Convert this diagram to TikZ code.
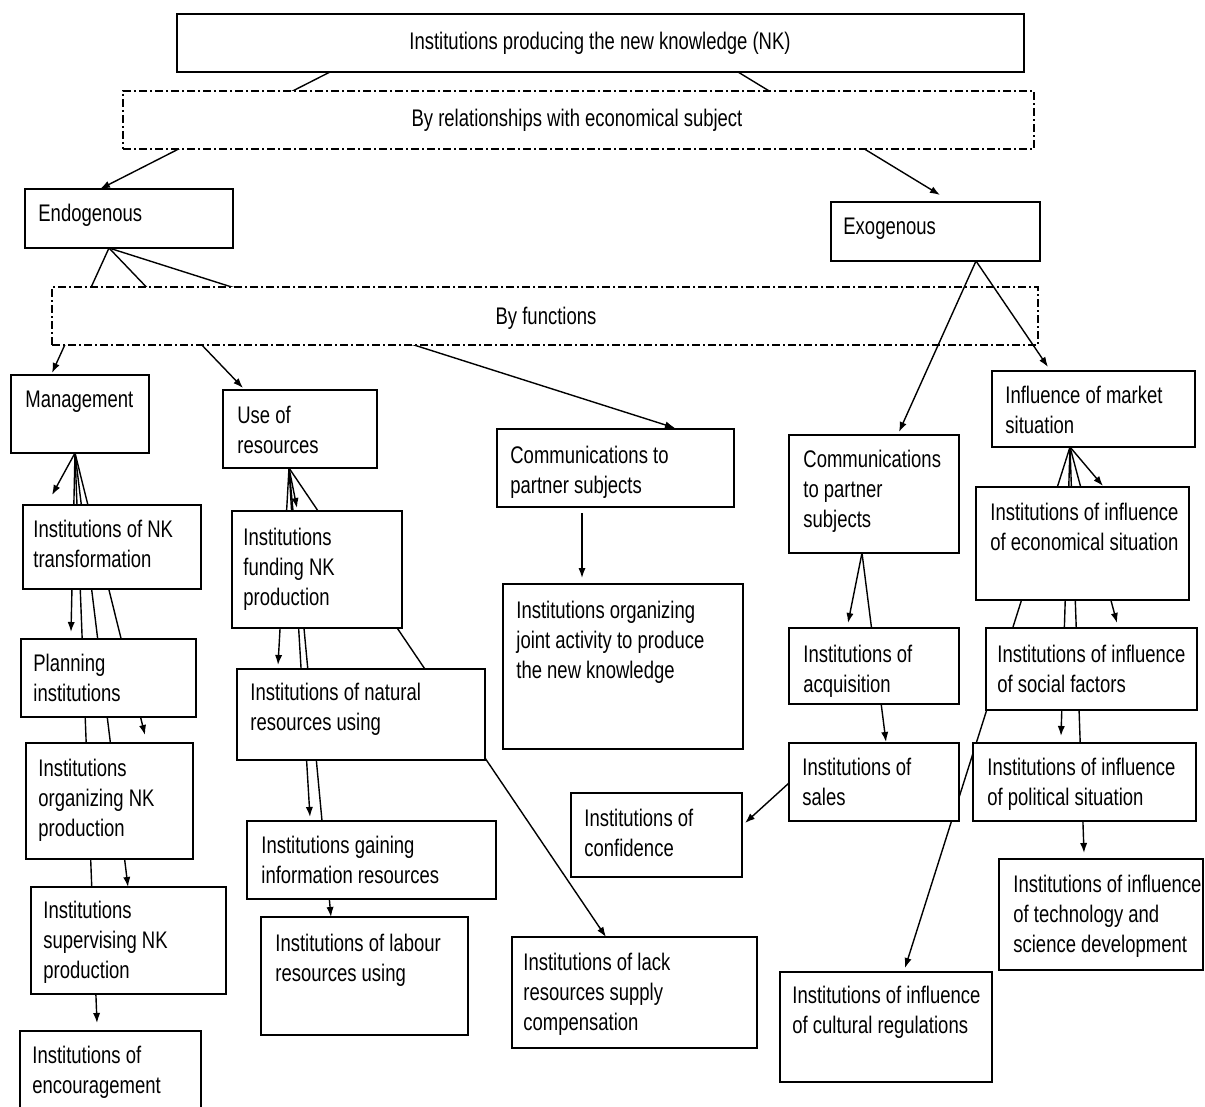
\documentclass[tikz,border=0pt]{standalone}
\usepackage{fontspec}
\setmainfont[FakeStretch=0.77]{Liberation Sans}
\usetikzlibrary{arrows.meta,calc,fit}
\pgfdeclarelayer{bg}
\pgfsetlayers{bg,main}
\newcommand\tl[1]{\begin{tabular}[t]{@{}l@{}}#1\end{tabular}}
\newcommand\bx[6][boxnode]{\node[#1, fit={(#3,#4) (#5,#6)}] (#2) {};}
\begin{document}
\begin{tikzpicture}[x=0.5pt,y=-0.5pt,
 boxnode/.style={draw, line width=1pt, fill=white, inner sep=0pt, outer sep=0pt},
 catbox/.style={draw, line width=0.8pt, fill=white, inner sep=0pt, outer sep=0pt, dash pattern=on 4pt off 1.5pt on 1pt off 1.5pt},
 txt/.style={anchor=base west, inner sep=0pt, font=\fontsize{12}{15.2}\selectfont},
 ctxt/.style={anchor=base, inner sep=0pt, font=\fontsize{12}{15.2}\selectfont},
 conn/.style={line width=0.7pt},
 arr/.style={conn, -{Latex[length=5pt,width=3.6pt]}}]

\useasboundingbox (0,0) rectangle (1205,1107);
\clip (0,0) rectangle (1205,1107);

% boxes
\bx{top}{177}{14}{1024}{72}
\bx[catbox]{rel}{123}{91}{1034}{149}
\bx{endo}{25}{189}{233}{248}
\bx{exo}{831}{202}{1040}{261}
\bx[catbox]{func}{52}{287}{1038}{345}
\bx{mgmt}{11}{375}{149}{453}
\bx{use}{223}{390}{377}{468}
\bx{comL}{497}{429}{734}{507}
\bx{joint}{503}{584}{743}{749}
\bx{comR}{789}{435}{959}{553}
\bx{market}{992}{371}{1195}{447}
\bx{econ}{976}{487}{1189}{600}
\bx{acq}{789}{628}{959}{704}
\bx{social}{986}{628}{1197}{710}
\bx{sales}{789}{743}{959}{821}
\bx{polit}{973}{743}{1196}{821}
\bx{tech}{999}{859}{1203}{970}
\bx{cult}{780}{972}{992}{1082}
\bx{conf}{571}{793}{742}{877}
\bx{lack}{512}{937}{757}{1048}
\bx{labour}{261}{917}{468}{1035}
\bx{gain}{247}{821}{496}{899}
\bx{natural}{237}{669}{485}{760}
\bx{fund}{232}{511}{402}{628}
\bx{nkt}{23}{505}{201}{589}
\bx{plan}{21}{639}{196}{717}
\bx{org}{26}{743}{193}{859}
\bx{sup}{31}{887}{226}{994}
\bx{enc}{20}{1031}{201}{1115}

% texts
\node[ctxt] (top-t) at (600,50) {Institutions producing the new knowledge (NK)};
\node[ctxt] (rel-t) at (577,127) {By relationships with economical subject};
\node[ctxt] (func-t) at (546,325) {By functions};
\node[txt] (endo-t) at (38,222) {Endogenous};
\node[txt] (exo-t) at (843,235) {Exogenous};
\node[txt] (mgmt-t) at (25,408) {Management};
\node[txt] (use-t) at (237,423) {\tl{Use of\\resources}};
\node[txt] (comL-t) at (510,463) {\tl{Communications to\\partner subjects}};
\node[txt] (joint-t) at (516,618) {\tl{Institutions organizing\\joint activity to produce\\the new knowledge}};
\node[txt] (comR-t) at (803,467) {\tl{Communications\\to partner\\subjects}};
\node[txt] (market-t) at (1005,403) {\tl{Influence of market\\situation}};
\node[txt] (econ-t) at (990,520) {\tl{Institutions of influence\\of economical situation}};
\node[txt] (acq-t) at (803,662) {\tl{Institutions of\\acquisition}};
\node[txt] (social-t) at (997,662) {\tl{Institutions of influence\\of social factors}};
\node[txt] (sales-t) at (802,775) {\tl{Institutions of\\sales}};
\node[txt] (polit-t) at (987,775) {\tl{Institutions of influence\\of political situation}};
\node[txt] (tech-t) at (1013,892) {\tl{Institutions of influence\\of technology and\\science development}};
\node[txt] (cult-t) at (792,1003) {\tl{Institutions of influence\\of cultural regulations}};
\node[txt] (conf-t) at (584,826) {\tl{Institutions of\\confidence}};
\node[txt] (lack-t) at (523,970) {\tl{Institutions of lack\\resources supply\\compensation}};
\node[txt] (labour-t) at (275,951) {\tl{Institutions of labour\\resources using}};
\node[txt] (gain-t) at (261,853) {\tl{Institutions gaining\\information resources}};
\node[txt] (natural-t) at (250,700) {\tl{Institutions of natural\\resources using}};
\node[txt] (fund-t) at (243,545) {\tl{Institutions\\funding NK\\production}};
\node[txt] (nkt-t) at (33,537) {\tl{Institutions of NK\\transformation}};
\node[txt] (plan-t) at (33,671) {\tl{Planning\\institutions}};
\node[txt] (org-t) at (38,776) {\tl{Institutions\\organizing NK\\production}};
\node[txt] (sup-t) at (43,918) {\tl{Institutions\\supervising NK\\production}};
\node[txt] (enc-t) at (32,1063) {\tl{Institutions of\\encouragement}};

% connectors hidden behind boxes
\begin{pgfonlayer}{bg}
\fill[white] (0,0) rectangle (1205,1107);
\draw[arr] ($(top.south west)+(153,0)$) -- ($(endo.north west)+(75,0)$);
\draw[arr] ($(top.south west)+(561,0)$) -- ($(exo.north west)+(109,-7)$);
\draw[arr] ($(endo.south west)+(84,0)$) -- ($(mgmt.north west)+(41,-2)$);
\draw[arr] ($(endo.south west)+(84,0)$) -- ($(use.north west)+(20,-2)$);
\draw[arr] ($(endo.south west)+(84,0)$) -- ($(comL.north west)+(178,-1)$);
\draw[arr] ($(mgmt.south west)+(64,0)$) -- ($(nkt.north west)+(29,-10)$);
\draw[arr] ($(mgmt.south west)+(64,0)$) -- ($(plan.north west)+(50,-7)$);
\draw[arr] ($(mgmt.south west)+(64,0)$) -- ($(org.north west)+(119,-8)$);
\draw[arr] ($(mgmt.south west)+(64,0)$) -- ($(sup.north west)+(97,0)$);
\draw[arr] ($(mgmt.south west)+(64,0)$) -- ($(enc.north west)+(77,-8)$);
\draw[arr] ($(use.south west)+(66,0)$) -- ($(fund.north west)+(65,-3)$);
\draw[arr] ($(use.south west)+(66,0)$) -- ($(natural.north west)+(41,-4)$);
\draw[arr] ($(use.south west)+(66,0)$) -- ($(gain.north west)+(63,-4)$);
\draw[arr] ($(use.south west)+(66,0)$) -- ($(labour.north west)+(70,0)$);
\draw[arr] ($(use.south west)+(66,0)$) -- ($(lack.north west)+(94,0)$);
\draw[arr] ($(comL.south west)+(85,6)$) -- ($(joint.north west)+(79,-6)$);
\draw[arr] ($(comR.south west)+(73,0)$) -- ($(acq.north west)+(59,-5)$);
\draw[arr] ($(comR.south west)+(73,0)$) -- ($(sales.north west)+(97,-1)$);
\draw[arr] ($(sales.north west)+(0,40)$) -- ($(conf.north east)+(3,30)$);
\draw[arr] ($(market.south west)+(78,0)$) -- ($(econ.north west)+(127,-1)$);
\draw[arr] ($(market.south west)+(78,0)$) -- ($(social.north west)+(131,-5)$);
\draw[arr] ($(market.south west)+(78,0)$) -- ($(polit.north west)+(88,-7)$);
\draw[arr] ($(market.south west)+(78,0)$) -- ($(tech.north west)+(85,-6)$);
\draw[arr] ($(market.south west)+(78,0)$) -- ($(cult.north west)+(125,-4)$);
\end{pgfonlayer}

% connectors drawn over the category box
\draw[arr] ($(exo.south west)+(145,0)$) -- ($(comR.north west)+(110,-3)$);
\draw[arr] ($(exo.south west)+(145,0)$) -- ($(market.north west)+(56,-4)$);
\end{tikzpicture}
\end{document}
